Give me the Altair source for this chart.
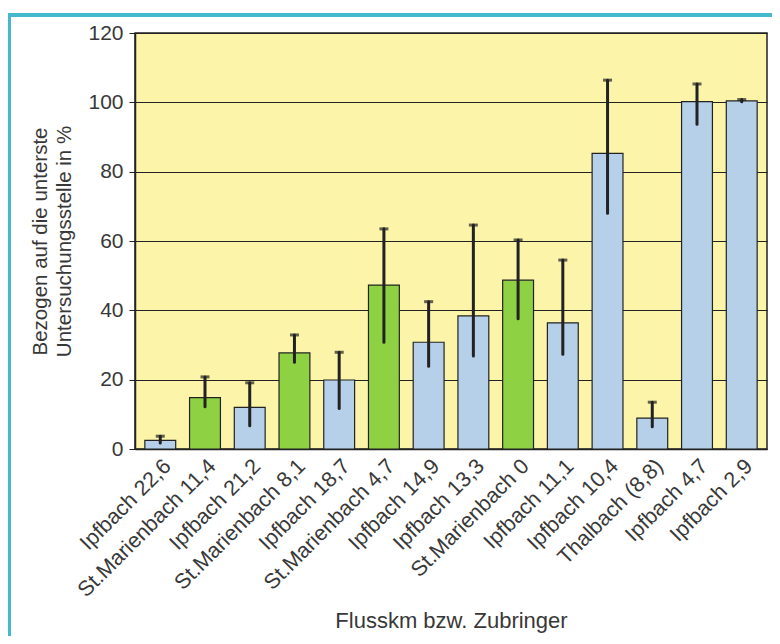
import altair as alt
import pandas as pd

labels = ["Ipfbach 22,6", "St.Marienbach 11,4", "Ipfbach 21,2", "St.Marienbach 8,1",
          "Ipfbach 18,7", "St.Marienbach 4,7", "Ipfbach 14,9", "Ipfbach 13,3",
          "St.Marienbach 0", "Ipfbach 11,1", "Ipfbach 10,4", "Thalbach (8,8)",
          "Ipfbach 4,7", "Ipfbach 2,9"]
values = [2.5, 14.8, 12.0, 27.7, 19.9, 47.3, 30.8, 38.4, 48.7, 36.4, 85.3, 8.9, 100.2, 100.4]
err_low = [1.7, 12.2, 6.7, 25.0, 11.7, 30.8, 23.9, 26.8, 37.6, 27.3, 68.0, 6.4, 93.7, 100.2]
err_high = [3.7, 20.8, 19.1, 32.9, 27.9, 63.5, 42.5, 64.6, 60.3, 54.5, 106.4, 13.5, 105.3, 100.8]
groups = ["Ipfbach" if not l.startswith("St.") else "St.Marienbach" for l in labels]

df = pd.DataFrame({"label": labels, "value": values, "lo": err_low, "hi": err_high, "group": groups})

FONT = "Liberation Sans"
TXT = "#383838"

x = alt.X("label:N", sort=labels, title="Flusskm bzw. Zubringer",
          scale=alt.Scale(paddingInner=0.31, paddingOuter=0.22),
          axis=alt.Axis(labelAngle=-45, labelFontSize=21.5, labelFont=FONT, labelColor=TXT,
                        labelLimit=400, labelOverlap=False,
                        titleFontSize=22, titleFont=FONT, titleColor=TXT, titleFontWeight="normal",
                        ticks=False, domainColor="#222", domainWidth=1.5, titlePadding=10,
                        labelPadding=6))
y = alt.Y("value:Q", scale=alt.Scale(domain=[0, 120]),
          title=["Bezogen auf die unterste", "Untersuchungsstelle in %"],
          axis=alt.Axis(values=[0, 20, 40, 60, 80, 100, 120], labelFontSize=21, labelFont=FONT,
                        labelColor=TXT, titleFontSize=20.5, titleFont=FONT, titleColor=TXT,
                        titleFontWeight="normal", gridColor="#222", gridWidth=1,
                        tickColor="#222", tickSize=6, domainColor="#222", domainWidth=1.5,
                        titlePadding=13, labelPadding=6, titleLineHeight=24))

bars = alt.Chart(df).mark_bar(stroke="#222", strokeWidth=1.2).encode(
    x=x, y=y,
    color=alt.Color("group:N", scale=alt.Scale(domain=["Ipfbach", "St.Marienbach"],
                                               range=["#b5d0e8", "#8ed243"]), legend=None)
)
rules = alt.Chart(df).mark_rule(color="#222", strokeWidth=3, strokeCap="round").encode(
    x=alt.X("label:N", sort=labels), y="lo:Q", y2="hi:Q")
caps = alt.Chart(df).mark_tick(color="#222", thickness=3, size=9).encode(
    x=alt.X("label:N", sort=labels), y="hi:Q")

frame_top = alt.Chart(df).mark_rule(color="#45b9cc", strokeWidth=3).encode(
    x=alt.value(-127), x2=alt.value(640), y=alt.value(-18))
frame_left = alt.Chart(df).mark_rule(color="#45b9cc", strokeWidth=3).encode(
    x=alt.value(-126), y=alt.value(-18), y2=alt.value(612))

chart = alt.layer(bars, rules, caps, frame_top, frame_left).properties(
    width=632, height=416,
    autosize=alt.AutoSizeParams(type="none"),
    padding={"left": 127, "top": 25, "right": 5, "bottom": 187},
    background="white",
).configure_view(fill="#fcf4a9", stroke="#222", strokeWidth=1.5)

chart.save("out.html", embed_options={"renderer": "svg", "actions": False})
